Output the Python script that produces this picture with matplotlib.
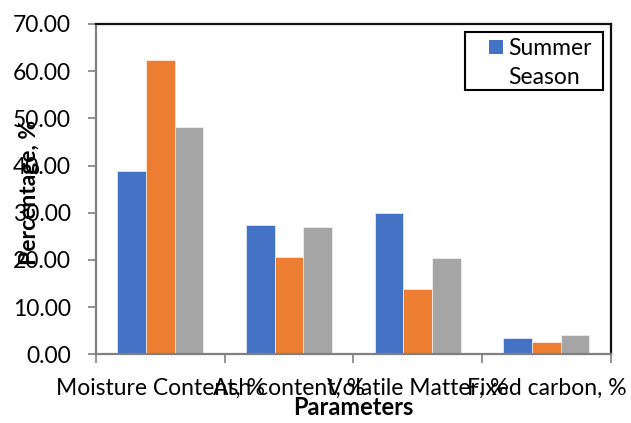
import matplotlib
matplotlib.use("Agg")
import matplotlib.pyplot as plt
import numpy as np
from matplotlib.patches import Rectangle
from matplotlib.ticker import FormatStrFormatter, FixedLocator

categories = ["Moisture Content, %", "Ash content, %", "Volatile Matter, %", "Fixed carbon, %"]
summer = [38.8, 27.4, 30.0, 3.5]
orange_series = [62.4, 20.6, 13.9, 2.7]
gray_series = [48.2, 27.0, 20.4, 4.0]
y_ticks = [0, 10, 20, 30, 40, 50, 60, 70]

colors = ["#4472C4", "#ED7D31", "#A5A5A5"]

plt.rcParams["font.family"] = ["Lato", "DejaVu Sans"]

fig = plt.figure(figsize=(6.31, 4.23), dpi=100)
ax = fig.add_axes([0.1521, 0.1624, 0.8157, 0.7809])

x = np.arange(len(categories))
w = 0.222
ax.bar(x - w, summer, w, color=colors[0], edgecolor="white", linewidth=0.4)
ax.bar(x, orange_series, w, color=colors[1], edgecolor="white", linewidth=0.4)
ax.bar(x + w, gray_series, w, color=colors[2], edgecolor="white", linewidth=0.4)

ax.set_xlim(-0.5, len(categories) - 0.5)
ax.set_ylim(0, 70)
ax.set_yticks(y_ticks)
ax.yaxis.set_major_formatter(FormatStrFormatter("%.2f"))

# category labels at group centres, tick marks on group boundaries
ax.set_xticks(x)
ax.set_xticklabels(categories)
ax.xaxis.set_minor_locator(FixedLocator(np.arange(len(categories) + 1) - 0.5))
ax.tick_params(axis="x", which="major", length=0, pad=17, labelsize=16.5)
ax.tick_params(axis="x", which="minor", length=6.5, width=1.2, color="#808080")
ax.tick_params(axis="y", length=6, width=1.2, color="#808080", pad=12, labelsize=16.5)

for s in ["left", "bottom"]:
    ax.spines[s].set_color("#808080")
    ax.spines[s].set_linewidth(1.6)
for s in ["top", "right"]:
    ax.spines[s].set_color("#111111")
    ax.spines[s].set_linewidth(1.6)

ax.set_ylabel("Percentage, %", fontsize=16.5, fontweight="bold")
ax.yaxis.set_label_coords(-0.109, 0.49)
ax.set_xlabel("Parameters", fontsize=17, fontweight="bold", va="top")
ax.xaxis.set_label_coords(0.5, -0.125)

# legend box with the swatch beside the first line of its label
ax.add_patch(Rectangle((0.717, 0.800), 0.268, 0.176, transform=ax.transAxes,
                       facecolor="white", edgecolor="black", linewidth=1.5, zorder=5))
ax.add_patch(Rectangle((0.7637, 0.909), 0.0272, 0.0426, transform=ax.transAxes,
                       facecolor=colors[0], edgecolor="none", zorder=6))
ax.text(0.8005, 0.958, "Summer\nSeason", transform=ax.transAxes, fontsize=16.5,
        va="top", ha="left", linespacing=1.45, zorder=7)

fig.savefig("out.png", dpi=100)
